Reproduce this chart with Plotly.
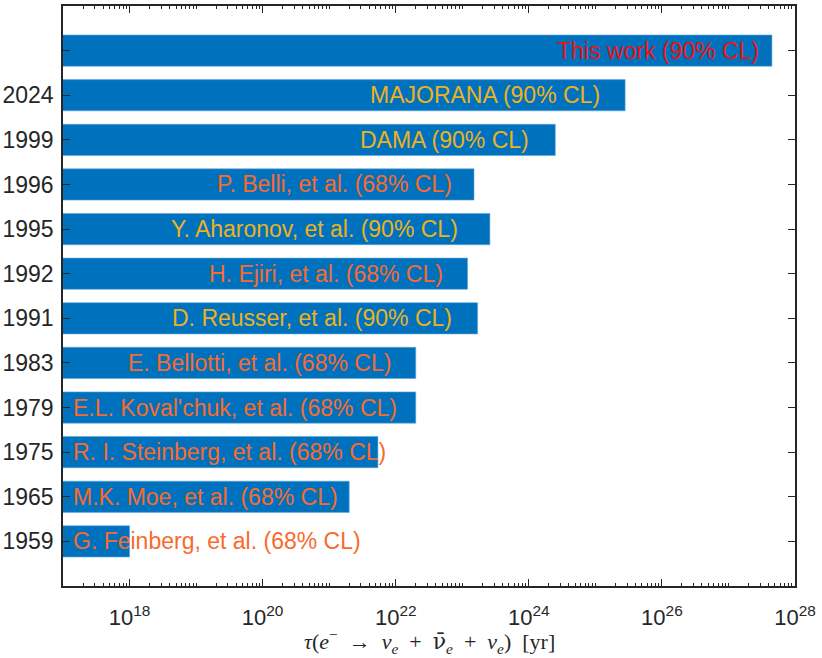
import plotly.graph_objects as go

# Lower limits on the electron lifetime, newest at the top
labels = ["This work (90% CL)", "MAJORANA (90% CL)", "DAMA (90% CL)",
          "P. Belli, et al. (68% CL)", "Y. Aharonov, et al. (90% CL)",
          "H. Ejiri, et al. (68% CL)", "D. Reusser, et al. (90% CL)",
          "E. Bellotti, et al. (68% CL)", "E.L. Koval'chuk, et al. (68% CL)",
          "R. I. Steinberg, et al. (68% CL)", "M.K. Moe, et al. (68% CL)",
          "G. Feinberg, et al. (68% CL)"]
years = ["", "2024", "1999", "1996", "1995", "1992", "1991",
         "1983", "1979", "1975", "1965", "1959"]
lifetime = [4.5e27, 2.8e25, 2.5e24, 1.5e23, 2.6e23, 1.2e23, 1.7e23,
            2.0e22, 2.0e22, 5.4e21, 2.0e21, 1.0e18]
cl_level = ["ours", "90", "90", "68", "90", "68", "90",
            "68", "68", "68", "68", "68"]

# left edge of each label, log10(yr)
label_x = [24.39, 21.58, 21.43, 19.28, 18.59, 19.16, 18.61,
           17.95, 17.12, 17.12, 17.12, 17.12]

text_colors = {"ours": "#EE1111", "90": "#EDB120", "68": "#F96A2C"}
axis_color = "#262626"

pos = list(range(len(labels)))

fig = go.Figure(go.Bar(
    x=lifetime,
    y=pos,
    orientation="h",
    width=0.7,
    marker=dict(color="#0072BD", line=dict(color="#5DA6DD", width=0.6)),
    hoverinfo="x+text",
    hovertext=labels,
))

for i, (txt, lvl, lx) in enumerate(zip(labels, cl_level, label_x)):
    fig.add_annotation(
        x=lx, y=pos[i], xref="x", yref="y",
        text=txt, showarrow=False, xanchor="left", yanchor="middle",
        font=dict(family="Liberation Sans, Arial", size=23, color=text_colors[lvl]),
    )

# x-axis label, placed by hand under the tick labels (LaTeX-ish spacing)
sp = "\u2002"
nubar = '<span style="font-family:DejaVu Serif">ν̄</span>'
fig.add_annotation(
    x=0.5, y=-0.095, xref="paper", yref="paper",
    xanchor="center", yanchor="middle", showarrow=False,
    text="<i>τ</i>(<i>e</i><sup>−</sup>" + sp + "→" + sp
         + "<i>ν</i><sub><i>e</i></sub>" + sp + "+" + sp
         + nubar + "<sub><i>e</i></sub>" + sp + "+" + sp
         + "<i>ν</i><sub><i>e</i></sub>)" + sp + "[yr]",
    font=dict(family="Liberation Serif, DejaVu Serif", size=22, color=axis_color),
)

major = [10.0 ** k for k in range(18, 29, 2)]
minor = [m * 10.0 ** k for k in range(17, 28) for m in range(1, 10)
         if not (m == 1 and k % 2 == 0)]

fig.update_layout(
    width=822, height=658,
    margin=dict(l=63, r=27, t=6, b=72),
    plot_bgcolor="white", paper_bgcolor="white",
    showlegend=False,
    font=dict(family="Liberation Sans, Arial", color=axis_color),
    xaxis=dict(
        type="log", range=[17, 28], automargin=False,
        tickvals=major,
        ticktext=["10<sup>%d</sup>" % k for k in range(18, 29, 2)],
        tickfont=dict(size=22, color=axis_color),
        ticks="inside", ticklen=7, tickwidth=1, tickcolor=axis_color,
        minor=dict(tickvals=minor, ticks="inside", ticklen=3.5,
                   tickwidth=1, tickcolor=axis_color, showgrid=False),
        showline=True, linecolor=axis_color, linewidth=1.5, mirror="ticks",
        showgrid=False, zeroline=False,
        ticklabelstandoff=11,
    ),
    yaxis=dict(
        range=[len(labels), -1], automargin=False,
        tickvals=pos, ticktext=years,
        tickfont=dict(size=23, color=axis_color),
        ticks="inside", ticklen=7, tickwidth=1.2, tickcolor=axis_color,
        showline=True, linecolor=axis_color, linewidth=1.5, mirror="ticks",
        showgrid=False, zeroline=False,
        ticklabelstandoff=3,
    ),
)

# the browser's default body margin would shift the whole figure
fig.write_html("out.html", config={"displayModeBar": False},
               post_script="document.body.style.margin = '0';")
